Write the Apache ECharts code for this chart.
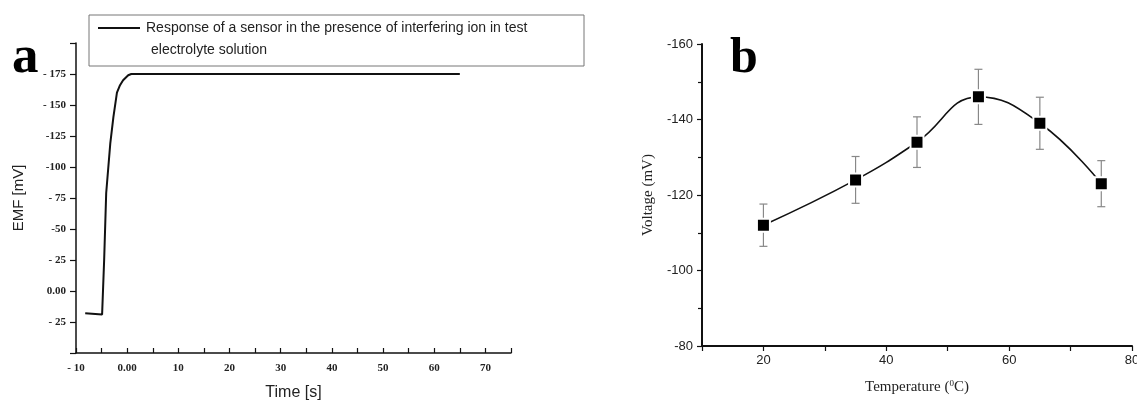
<!DOCTYPE html>
<html><head><meta charset="utf-8">
<script src="https://cdn.jsdelivr.net/npm/echarts@6/dist/echarts.min.js"></script>
<style>html,body{margin:0;padding:0;background:#fff}#c{width:1137px;height:403px}</style>
</head><body><div id="c"></div>
<script>
// ---- Panel a data ----
const timeS = [-8.2, -4.9, -4.5, -4.1, -3.3, -2.7, -2.0, -1.4, -0.8, 0.2, 0.8, 65];
const emfMv = [-18, -19, 25, 79, 119, 140, 160, 166, 170, 174, 175, 175];
const leftYTickValues = [-25, 0, 25, 50, 75, 100, 125, 150, 175];
const leftYTickLabels = ["- 25", "0.00", "- 25", "-50", "- 75", "-100", "-125", "- 150", "- 175"];
const leftXTickValues = [-10, 0, 10, 20, 30, 40, 50, 60, 70];
const leftXTickLabels = ["- 10", "0.00", "10", "20", "30", "40", "50", "60", "70"];
const legendLine1 = "Response of a sensor in the presence of interfering ion in test";
const legendLine2 = "electrolyte solution";

// ---- Panel b data ----
const temperatureC = [20, 35, 45, 55, 65, 75];
const voltageMv = [-112, -124, -134, -146, -139, -123];
const voltageErr = [5.6, 6.2, 6.7, 7.3, 6.9, 6.1];
const rightXTickLabels = ["20", "40", "60", "80"];

const serifB = '"Liberation Serif", "Times New Roman", serif';
const sans = '"Liberation Sans", Arial, sans-serif';

const chart = echarts.init(document.getElementById('c'), null, {renderer: 'canvas'});

const option = {
  animation: false,
  backgroundColor: '#fff',
  grid: [
    {left: 76, top: 43, width: 435, height: 310, outerBoundsMode: 'none', containLabel: false},
    {left: 702, top: 44, width: 430, height: 302, outerBoundsMode: 'none', containLabel: false}
  ],
  xAxis: [
    {
      gridIndex: 0, type: 'value', min: -10, max: 75, interval: 5,
      name: 'Time [s]', nameLocation: 'middle', nameGap: 32,
      nameTextStyle: {fontFamily: sans, fontSize: 16, color: '#222'},
      axisLine: {onZero: false, lineStyle: {color: '#111', width: 1.5}},
      axisTick: {inside: true, length: 5, lineStyle: {color: '#111', width: 1.2}},
      axisLabel: {
        margin: 10, fontFamily: serifB, fontWeight: 'bold', fontSize: 11, color: '#222',
        formatter: v => { const i = leftXTickValues.indexOf(v); return i >= 0 ? leftXTickLabels[i] : ''; }
      },
      splitLine: {show: false}
    },
    {
      gridIndex: 1, type: 'value', min: 10, max: 80, interval: 10,
      name: 'Temperature ({sup|0}C)', nameLocation: 'middle', nameGap: 33,
      nameTextStyle: {fontFamily: serifB, fontSize: 15, color: '#222',
        rich: {sup: {fontFamily: serifB, fontSize: 9, color: '#222', verticalAlign: 'top', padding: [0, 0, 8, 0]}}},
      axisLine: {onZero: false, lineStyle: {color: '#111', width: 2}},
      axisTick: {length: 5, lineStyle: {color: '#111', width: 1.2}},
      axisLabel: {
        margin: 8, fontFamily: sans, fontSize: 13, color: '#222',
        formatter: v => { const i = rightXTickLabels.indexOf(String(v)); return i >= 0 ? rightXTickLabels[i] : ''; }
      },
      splitLine: {show: false}
    }
  ],
  yAxis: [
    {
      gridIndex: 0, type: 'value', min: -50, max: 200, interval: 25,
      name: 'EMF [mV]', nameLocation: 'middle', nameGap: 50, nameRotate: 90,
      nameTextStyle: {fontFamily: sans, fontSize: 15, color: '#222'},
      axisLine: {show: true, onZero: false, lineStyle: {color: '#111', width: 1.5}},
      axisTick: {show: true, length: 6, lineStyle: {color: '#111', width: 1.2}},
      axisLabel: {
        margin: 10, fontFamily: serifB, fontWeight: 'bold', fontSize: 11, color: '#222',
        formatter: v => { const i = leftYTickValues.indexOf(v); return i >= 0 ? leftYTickLabels[i] : ''; }
      },
      splitLine: {show: false}
    },
    {
      gridIndex: 1, type: 'value', min: -160, max: -80, interval: 20, inverse: true,
      name: 'Voltage (mV)', nameLocation: 'middle', nameGap: 46, nameRotate: 90,
      nameTextStyle: {fontFamily: serifB, fontSize: 15, color: '#222'},
      axisLine: {show: true, onZero: false, lineStyle: {color: '#111', width: 2}},
      axisTick: {show: true, length: 5, lineStyle: {color: '#111', width: 1.2}},
      minorTick: {show: true, splitNumber: 2, length: 4, lineStyle: {color: '#111', width: 1.2}},
      axisLabel: {margin: 9, fontFamily: sans, fontSize: 13, color: '#222'},
      splitLine: {show: false}
    }
  ],
  series: [
    {
      type: 'line', xAxisIndex: 0, yAxisIndex: 0,
      data: timeS.map((t, i) => [t, emfMv[i]]),
      showSymbol: false, smooth: false,
      lineStyle: {color: '#111', width: 2}
    },
    {
      type: 'custom', xAxisIndex: 1, yAxisIndex: 1, z: 1,
      data: temperatureC.map((t, i) => [t, voltageMv[i] - voltageErr[i], voltageMv[i] + voltageErr[i]]),
      renderItem: (params, api) => {
        const x = api.value(0);
        const a = api.coord([x, api.value(1)]);
        const b = api.coord([x, api.value(2)]);
        const w = 4;
        const st = {stroke: '#888', lineWidth: 1.2};
        return {type: 'group', children: [
          {type: 'line', shape: {x1: a[0], y1: a[1], x2: b[0], y2: b[1]}, style: st},
          {type: 'line', shape: {x1: a[0] - w, y1: a[1], x2: a[0] + w, y2: a[1]}, style: st},
          {type: 'line', shape: {x1: b[0] - w, y1: b[1], x2: b[0] + w, y2: b[1]}, style: st}
        ]};
      }
    },
    {
      type: 'line', xAxisIndex: 1, yAxisIndex: 1, z: 3,
      data: temperatureC.map((t, i) => [t, voltageMv[i]]),
      smooth: 0.45,
      symbol: 'rect', symbolSize: 13,
      itemStyle: {color: '#000', borderColor: '#fff', borderWidth: 2},
      lineStyle: {color: '#111', width: 1.6}
    }
  ],
  graphic: [
    {type: 'rect', shape: {x: 89, y: 15, width: 495, height: 51}, style: {fill: '#fff', stroke: '#777', lineWidth: 1}, z: 10},
    {type: 'line', shape: {x1: 98, y1: 28, x2: 140, y2: 28}, style: {stroke: '#111', lineWidth: 2}, z: 11},
    {type: 'text', x: 146, y: 28, style: {text: legendLine1, font: '14px ' + sans, fill: '#222', verticalAlign: 'middle'}, z: 11},
    {type: 'text', x: 151, y: 50, style: {text: legendLine2, font: '14px ' + sans, fill: '#222', verticalAlign: 'middle'}, z: 11},
    {type: 'text', x: 12, y: 85, style: {text: 'a', font: 'bold 53px ' + serifB, fill: '#000', verticalAlign: 'bottom'}, z: 11},
    {type: 'text', x: 730, y: 84, style: {text: 'b', font: 'bold 50px ' + serifB, fill: '#000', verticalAlign: 'bottom'}, z: 11}
  ]
};
chart.setOption(option);
</script>
</body></html>
